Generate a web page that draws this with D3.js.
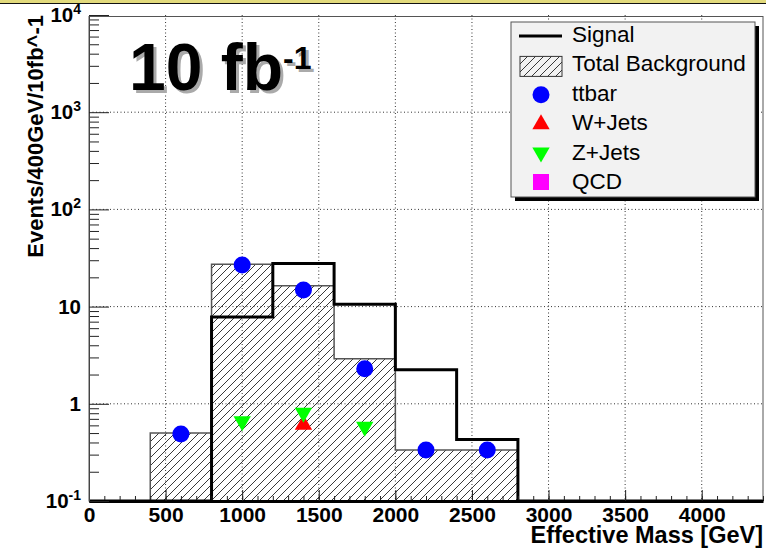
<!DOCTYPE html>
<html>
<head>
<meta charset="utf-8">
<script src="https://cdn.jsdelivr.net/npm/d3@7"></script>
<style>
body{margin:0;background:#fff}
svg{display:block;font-family:"Liberation Sans",Arial,Helvetica,sans-serif}
</style>
</head>
<body>
<svg id="chart" width="766" height="549"></svg>
<script>
// histogram bins (400 GeV wide)
var binLow = [0, 400, 800, 1200, 1600, 2000, 2400, 2800, 3200, 3600, 4000];
var binWidth = 400;
var signal = [0, 0, 7.8, 27.8, 10.6, 2.24, 0.43, 0, 0, 0, 0];
var background = [0, 0.5, 27.2, 16.4, 2.9, 0.335, 0.335, 0, 0, 0, 0];

// per-process points
var ttbarX = [600, 1000, 1400, 1800, 2200, 2600];
var ttbarY = [0.49, 26.8, 14.8, 2.3, 0.335, 0.335];
var wjetsX = [1400];
var wjetsY = [0.61];
var zjetsX = [1000, 1400, 1800];
var zjetsY = [0.66, 0.81, 0.58];
var qcdX = [];
var qcdY = [];

var xTicks = [0, 500, 1000, 1500, 2000, 2500, 3000, 3500, 4000];
var yTicks = [0.1, 1, 10, 100, 1000, 10000];
var yTickBase = ["10", "1", "10", "10", "10", "10"];
var yTickExp = ["-1", "", "", "2", "3", "4"];
var legendNames = ["Signal", "Total Background", "ttbar", "W+Jets", "Z+Jets", "QCD"];

var svg = d3.select("#chart");
var pLeft = 89, pRight = 763, pTop = 15, pBottom = 501;

var x = d3.scaleLinear().domain([0, 4400]).range([pLeft, pRight]);
var y = d3.scaleLog().domain([0.1, 10000]).range([pBottom, pTop]);
function yc(v){ return y(Math.max(v, 0.1)); }

// top band of the canvas
svg.append("rect").attr("x", -2).attr("y", -2).attr("width", 770).attr("height", 5.5)
  .attr("fill", "#e2da7c").attr("stroke", "#111").attr("stroke-width", 1);

// hatch pattern
var defs = svg.append("defs");
var pat = defs.append("pattern").attr("id", "hatch").attr("patternUnits", "userSpaceOnUse")
  .attr("width", 8).attr("height", 8);
pat.append("path").attr("d", "M-2,2 L2,-2 M0,8 L8,0 M6,10 L10,6")
  .attr("stroke", "#222").attr("stroke-width", 0.9);
defs.append("clipPath").attr("id", "plotclip").append("rect")
  .attr("x", pLeft).attr("y", pTop).attr("width", pRight - pLeft).attr("height", pBottom - pTop + 2);

// grid
var grid = svg.append("g").attr("stroke", "#333").attr("stroke-width", 1).attr("stroke-dasharray", "1,2.5");
grid.selectAll(".gx").data(xTicks.filter(function(d){ return d > 0; })).enter().append("line")
  .attr("x1", function(d){ return x(d); }).attr("x2", function(d){ return x(d); })
  .attr("y1", pTop).attr("y2", pBottom);
grid.selectAll(".gy").data(yTicks.slice(1, -1)).enter().append("line")
  .attr("x1", pLeft).attr("x2", pRight)
  .attr("y1", function(d){ return y(d); }).attr("y2", function(d){ return y(d); });

var plot = svg.append("g").attr("clip-path", "url(#plotclip)");

// total background histogram
var bgPts = binLow.map(function(b, i){ return [b, background[i]]; });
bgPts.push([binLow[binLow.length - 1] + binWidth, background[background.length - 1]]);
var bgArea = d3.area().curve(d3.curveStepAfter)
  .x(function(d){ return x(d[0]); }).y0(pBottom).y1(function(d){ return yc(d[1]); });
var stepLine = d3.line().curve(d3.curveStepAfter)
  .x(function(d){ return x(d[0]); }).y(function(d){ return yc(d[1]); });
plot.append("path").attr("d", bgArea(bgPts)).attr("fill", "url(#hatch)");
plot.append("path").attr("d", stepLine(bgPts)).attr("fill", "none").attr("stroke", "#555").attr("stroke-width", 1.5);

// signal histogram
var sigPts = binLow.map(function(b, i){ return [b, signal[i]]; });
sigPts.push([binLow[binLow.length - 1] + binWidth, signal[signal.length - 1]]);
plot.append("path").attr("d", stepLine(sigPts)).attr("fill", "none")
  .attr("stroke", "#000").attr("stroke-width", 3);

// markers
var triUp = d3.symbol().type(d3.symbolTriangle).size(130);
svg.selectAll(".tt").data(ttbarX).enter().append("circle")
  .attr("cx", function(d){ return x(d); }).attr("cy", function(d, i){ return y(ttbarY[i]); })
  .attr("r", 8.5).attr("fill", "#0000ff");
svg.selectAll(".wj").data(wjetsX).enter().append("path").attr("d", triUp())
  .attr("transform", function(d, i){ return "translate(" + x(d) + "," + y(wjetsY[i]) + ")"; })
  .attr("fill", "#ff0000");
svg.selectAll(".zj").data(zjetsX).enter().append("path").attr("d", triUp())
  .attr("transform", function(d, i){ return "translate(" + x(d) + "," + y(zjetsY[i]) + ") rotate(180)"; })
  .attr("fill", "#00ff00");
svg.selectAll(".qcd").data(qcdX).enter().append("rect")
  .attr("x", function(d){ return x(d) - 8; }).attr("y", function(d, i){ return y(qcdY[i]) - 8; })
  .attr("width", 16).attr("height", 16).attr("fill", "#ff00ff");

// frame
svg.append("rect").attr("x", pLeft).attr("y", pTop + 1.5).attr("width", pRight - pLeft).attr("height", pBottom - pTop - 1.5)
  .attr("fill", "none").attr("stroke", "#555").attr("stroke-width", 1);

// x axis
var xMinor = d3.range(0, 4401, 100);
svg.append("g").attr("transform", "translate(0," + pBottom + ")")
  .call(d3.axisBottom(x).tickValues(xMinor).tickSizeInner(-5).tickSizeOuter(0).tickFormat(""))
  .call(function(g){ g.select(".domain").remove(); g.selectAll("line").attr("stroke", "#222"); });
svg.append("g").attr("transform", "translate(0," + pBottom + ")")
  .call(d3.axisBottom(x).tickValues(xTicks).tickSizeInner(-11).tickSizeOuter(0).tickPadding(6).tickFormat(d3.format("d")))
  .call(function(g){
    g.select(".domain").attr("stroke", "#000").attr("stroke-width", 3);
    g.selectAll("line").attr("stroke", "#222");
    g.selectAll("text").attr("font-size", 21).attr("font-weight", "bold").attr("fill", "#000");
  });

// y axis
var yMinor = [];
[0.1, 1, 10, 100, 1000].forEach(function(d){ for (var k = 2; k <= 9; k++) yMinor.push(d * k); });
svg.append("g").attr("transform", "translate(" + pLeft + ",0)")
  .call(d3.axisLeft(y).tickValues(yMinor).tickSizeInner(-10).tickSizeOuter(0).tickFormat(""))
  .call(function(g){ g.select(".domain").remove(); g.selectAll("line").attr("stroke", "#222"); });
svg.append("g").attr("transform", "translate(" + pLeft + ",0)")
  .call(d3.axisLeft(y).tickValues(yTicks).tickSizeInner(-20).tickSizeOuter(0).tickFormat(""))
  .call(function(g){ g.select(".domain").attr("stroke", "#444"); g.selectAll("line").attr("stroke", "#222"); });

var ylab = svg.selectAll(".ylab").data(yTicks).enter().append("text")
  .attr("x", 81).attr("y", function(d){ return y(d) + 7; })
  .attr("text-anchor", "end").attr("font-size", 20.5).attr("font-weight", "bold");
ylab.append("tspan").text(function(d, i){ return yTickBase[i]; });
ylab.filter(function(d, i){ return yTickExp[i] !== ""; }).append("tspan")
  .attr("dy", -8).attr("font-size", 14).text(function(d){ return yTickExp[yTicks.indexOf(d)]; });

// axis titles
svg.append("text").attr("transform", "translate(43,15) rotate(-90)")
  .attr("text-anchor", "end").attr("font-size", 22).attr("font-weight", "bold")
  .text("Events/400GeV/10fb^-1");
svg.append("text").attr("x", 763).attr("y", 543).attr("text-anchor", "end")
  .attr("font-size", 23.5).attr("font-weight", "bold").text("Effective Mass [GeV]");

// luminosity label with shadow
[["#aaa", 3], ["#000", 0]].forEach(function(s){
  var t = svg.append("text").attr("x", 129 + s[1]).attr("y", 90 + s[1])
    .attr("font-size", 66).attr("font-weight", "bold").attr("fill", s[0]);
  t.append("tspan").text("10 fb");
  t.append("tspan").attr("dy", -21).attr("font-size", 32).text("-1");
});

// legend
var lg = svg.append("g");
lg.append("rect").attr("x", 515).attr("y", 26).attr("width", 244).attr("height", 175).attr("fill", "#000");
lg.append("rect").attr("x", 511).attr("y", 22).attr("width", 244).attr("height", 175)
  .attr("fill", "#f2f2f2").attr("stroke", "#555").attr("stroke-width", 1);
var rowY = d3.scaleLinear().domain([0, 5]).range([34, 181]);
lg.selectAll(".lt").data(legendNames).enter().append("text")
  .attr("x", 572).attr("y", function(d, i){ return rowY(i) + 8; })
  .attr("font-size", 22.5).attr("fill", "#000").text(function(d){ return d; });
lg.append("line").attr("x1", 519).attr("x2", 562).attr("y1", rowY(0) + 2).attr("y2", rowY(0) + 2)
  .attr("stroke", "#000").attr("stroke-width", 3);
lg.append("rect").attr("x", 520).attr("y", rowY(1) - 7).attr("width", 42).attr("height", 20)
  .attr("fill", "url(#hatch)").attr("stroke", "#333").attr("stroke-width", 1);
lg.append("circle").attr("cx", 541).attr("cy", rowY(2) + 2).attr("r", 8.5).attr("fill", "#0000ff");
lg.append("path").attr("d", triUp()).attr("transform", "translate(541," + (rowY(3) + 2) + ")").attr("fill", "#ff0000");
lg.append("path").attr("d", triUp()).attr("transform", "translate(541," + (rowY(4) + 1) + ") rotate(180)").attr("fill", "#00ff00");
lg.append("rect").attr("x", 533).attr("y", rowY(5) - 7).attr("width", 16).attr("height", 16).attr("fill", "#ff00ff");
</script>
</body>
</html>
